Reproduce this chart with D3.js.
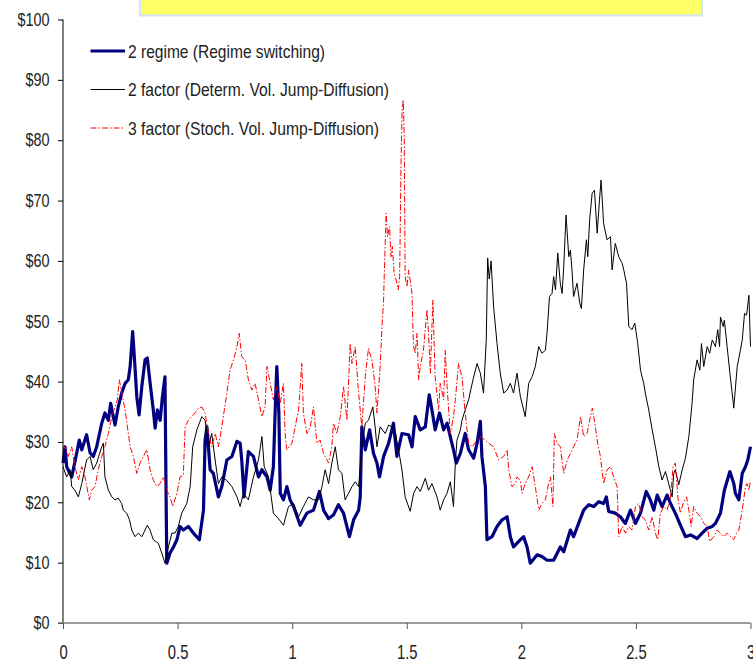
<!DOCTYPE html>
<html>
<head>
<meta charset="utf-8">
<script src="https://cdn.jsdelivr.net/npm/d3@7"></script>
<style>
  html, body { margin: 0; padding: 0; background: #fff; }
  svg { display: block; }
  text { font-family: "Liberation Sans", Arial, sans-serif; fill: #222; }
</style>
</head>
<body>
<svg id="chart" width="753" height="665"></svg>
<script>
// ---- data (time in years, price in $) ----
const seriesNames = [
  "2 regime (Regime switching)",
  "2 factor (Determ. Vol. Jump-Diffusion)",
  "3 factor (Stoch. Vol. Jump-Diffusion)"
];
const yTickValues = [0, 10, 20, 30, 40, 50, 60, 70, 80, 90, 100];
const xTickValues = [0, 0.5, 1, 1.5, 2, 2.5, 3];

const regimeSwitching = [
[0.000,26.5],[0.009,29.2],[0.016,25.9],[0.038,24.2],[0.060,28.2],[0.071,30.3],[0.082,28.7],[0.103,31.2],[0.118,28.2],[0.132,27.6],
[0.147,29.2],[0.169,33.1],[0.183,34.8],[0.198,33.6],[0.208,36.4],[0.227,32.8],[0.241,35.8],[0.256,38.1],[0.271,39.7],[0.285,40.3],
[0.293,42.5],[0.304,48.3],[0.314,42.5],[0.322,37.5],[0.332,34.5],[0.344,39.2],[0.358,43.6],[0.368,43.9],[0.380,39.8],[0.394,35.3],
[0.402,32.3],[0.412,35.3],[0.424,33.6],[0.434,37.5],[0.445,40.8],[0.450,20.4],[0.453,9.9],[0.467,11.6],[0.482,12.6],[0.497,13.8],
[0.511,16.0],[0.525,15.4],[0.547,16.0],[0.569,14.9],[0.595,13.8],[0.613,18.7],[0.620,30.3],[0.628,32.5],[0.642,25.4],[0.656,24.8],
[0.678,20.9],[0.693,22.6],[0.715,27.0],[0.737,27.6],[0.759,30.1],[0.773,29.8],[0.780,27.0],[0.790,20.9],[0.809,28.4],[0.831,27.6],
[0.853,24.2],[0.868,25.4],[0.890,24.2],[0.904,22.0],[0.918,25.9],[0.926,35.3],[0.933,42.5],[0.942,34.8],[0.948,21.5],[0.962,20.4],
[0.977,22.6],[0.991,20.4],[1.006,19.3],[1.035,16.2],[1.064,18.2],[1.093,18.7],[1.119,21.8],[1.137,18.7],[1.159,17.3],[1.180,17.9],
[1.202,19.6],[1.224,18.2],[1.250,14.3],[1.268,17.1],[1.290,18.7],[1.297,20.9],[1.304,32.5],[1.319,28.7],[1.338,32.0],[1.355,28.1],
[1.370,26.5],[1.381,24.2],[1.399,27.6],[1.421,29.8],[1.442,33.1],[1.457,27.6],[1.479,31.4],[1.508,31.2],[1.523,29.2],[1.537,34.2],
[1.559,32.0],[1.581,32.5],[1.598,37.8],[1.610,35.3],[1.624,32.0],[1.643,34.8],[1.661,32.0],[1.676,33.1],[1.690,30.9],[1.704,28.7],
[1.716,26.5],[1.734,28.1],[1.755,31.4],[1.770,28.7],[1.792,27.3],[1.807,29.8],[1.821,33.4],[1.828,27.6],[1.843,22.6],[1.850,13.8],
[1.872,14.3],[1.894,16.0],[1.916,17.1],[1.938,17.6],[1.952,14.3],[1.966,12.6],[1.996,13.8],[2.010,14.3],[2.025,12.6],[2.039,9.9],
[2.069,11.3],[2.090,11.0],[2.112,10.4],[2.141,10.4],[2.170,12.6],[2.185,11.8],[2.214,15.4],[2.228,14.3],[2.250,16.5],[2.272,18.7],
[2.294,19.6],[2.316,19.3],[2.338,20.1],[2.359,19.8],[2.371,20.9],[2.381,18.5],[2.410,18.2],[2.432,17.6],[2.454,16.5],[2.476,18.7],
[2.498,16.5],[2.520,18.2],[2.545,21.8],[2.563,20.4],[2.578,18.7],[2.593,21.2],[2.614,19.3],[2.636,21.2],[2.651,19.8],[2.672,18.2],
[2.694,16.2],[2.716,14.3],[2.738,14.6],[2.767,14.0],[2.789,14.9],[2.811,15.7],[2.833,16.0],[2.847,16.5],[2.869,18.2],[2.886,22.0],
[2.910,25.1],[2.927,23.1],[2.934,21.5],[2.949,20.4],[2.964,24.8],[2.978,25.9],[2.988,27.0],[3.000,29.2]
];

const twoFactor = [
[0.000,25.9],[0.016,24.2],[0.031,25.4],[0.038,22.6],[0.052,22.0],[0.067,20.9],[0.082,23.1],[0.103,27.0],[0.118,27.6],[0.132,25.4],
[0.147,26.5],[0.169,29.2],[0.176,29.8],[0.183,24.2],[0.198,22.0],[0.213,20.9],[0.227,20.4],[0.241,20.7],[0.256,19.8],[0.263,18.7],
[0.278,18.2],[0.290,17.1],[0.300,15.4],[0.314,14.3],[0.329,14.9],[0.344,14.3],[0.358,15.4],[0.368,16.2],[0.380,15.4],[0.394,13.8],
[0.416,13.2],[0.431,11.6],[0.445,9.9],[0.460,12.6],[0.475,14.9],[0.489,14.9],[0.503,16.0],[0.518,18.2],[0.540,19.8],[0.555,22.6],
[0.566,29.2],[0.584,32.0],[0.606,34.2],[0.620,33.6],[0.635,29.2],[0.649,31.4],[0.664,27.0],[0.678,23.1],[0.693,24.2],[0.715,23.6],
[0.737,22.6],[0.759,20.9],[0.773,19.3],[0.787,21.5],[0.809,20.4],[0.831,24.2],[0.853,27.0],[0.868,30.9],[0.878,25.9],[0.897,24.2],
[0.918,18.2],[0.940,17.3],[0.962,16.2],[0.984,19.3],[1.006,19.8],[1.028,17.6],[1.049,19.3],[1.071,20.9],[1.093,20.4],[1.115,20.4],
[1.130,22.6],[1.144,25.4],[1.159,23.1],[1.173,26.5],[1.188,29.2],[1.202,25.4],[1.217,24.8],[1.231,20.4],[1.246,21.5],[1.261,22.6],
[1.275,23.4],[1.290,22.6],[1.304,29.2],[1.319,33.1],[1.333,33.6],[1.352,35.8],[1.362,32.5],[1.370,29.2],[1.384,32.5],[1.406,31.4],
[1.421,32.8],[1.435,32.5],[1.450,31.7],[1.464,28.7],[1.479,25.4],[1.493,20.9],[1.515,18.5],[1.530,21.5],[1.545,22.6],[1.559,21.8],
[1.581,24.0],[1.595,22.0],[1.610,23.1],[1.632,20.9],[1.646,18.7],[1.661,20.4],[1.676,21.5],[1.690,23.4],[1.704,19.3],[1.712,26.5],
[1.719,30.3],[1.734,32.0],[1.741,33.6],[1.755,35.3],[1.770,37.0],[1.789,40.3],[1.807,43.0],[1.821,41.4],[1.835,38.1],[1.847,46.9],
[1.853,60.5],[1.860,57.0],[1.868,60.0],[1.879,52.4],[1.894,46.3],[1.908,41.4],[1.923,38.1],[1.938,38.6],[1.952,39.7],[1.966,38.1],
[1.981,41.4],[1.996,37.5],[2.017,34.2],[2.032,39.7],[2.047,40.8],[2.061,42.5],[2.076,45.8],[2.090,44.7],[2.105,45.2],[2.112,48.0],
[2.123,54.1],[2.134,54.6],[2.141,57.4],[2.149,55.2],[2.159,61.3],[2.170,56.3],[2.178,54.6],[2.185,59.0],[2.195,67.6],[2.207,60.7],
[2.214,61.8],[2.221,58.5],[2.228,54.1],[2.243,56.3],[2.255,53.0],[2.262,52.1],[2.272,58.5],[2.284,63.5],[2.290,60.7],[2.298,66.8],
[2.309,71.2],[2.319,71.7],[2.331,64.6],[2.341,70.1],[2.348,73.4],[2.359,66.2],[2.374,63.5],[2.389,64.0],[2.396,58.5],[2.410,62.9],
[2.425,60.7],[2.440,59.6],[2.447,58.5],[2.459,56.3],[2.469,49.1],[2.483,48.6],[2.495,49.7],[2.508,46.3],[2.520,41.9],[2.534,39.7],
[2.541,38.1],[2.556,35.3],[2.571,32.0],[2.585,29.2],[2.600,25.9],[2.614,23.7],[2.629,25.1],[2.643,23.1],[2.658,20.9],[2.665,24.8],
[2.672,25.4],[2.687,22.9],[2.702,25.4],[2.716,27.3],[2.731,30.9],[2.745,36.4],[2.752,40.3],[2.767,43.6],[2.779,41.9],[2.786,46.3],
[2.796,42.5],[2.811,45.8],[2.822,44.7],[2.833,46.9],[2.847,45.8],[2.857,48.6],[2.865,45.8],[2.869,50.7],[2.881,49.1],[2.886,50.2],
[2.898,45.8],[2.910,41.4],[2.920,38.1],[2.927,35.6],[2.942,42.5],[2.956,45.2],[2.964,46.9],[2.974,51.3],[2.983,51.0],[2.993,54.3],
[3.000,45.8]
];

const threeFactor = [
[0.000,28.7],[0.009,29.2],[0.023,27.6],[0.038,29.2],[0.052,25.9],[0.067,23.7],[0.082,25.9],[0.096,24.2],[0.115,20.4],[0.125,22.0],
[0.140,22.6],[0.154,25.4],[0.169,27.6],[0.183,29.2],[0.198,31.4],[0.213,34.2],[0.227,35.8],[0.237,37.0],[0.246,40.3],[0.256,38.1],
[0.271,35.3],[0.281,32.5],[0.293,29.2],[0.307,27.6],[0.322,24.8],[0.336,26.5],[0.351,27.6],[0.366,28.7],[0.380,25.4],[0.394,23.7],
[0.409,22.6],[0.424,23.1],[0.438,24.2],[0.453,22.0],[0.467,20.9],[0.479,19.3],[0.497,21.5],[0.511,24.2],[0.525,24.5],[0.533,32.5],
[0.547,33.6],[0.562,34.2],[0.576,34.8],[0.591,35.6],[0.606,35.8],[0.620,34.8],[0.635,31.4],[0.649,29.2],[0.664,31.4],[0.678,29.2],
[0.693,32.5],[0.715,38.1],[0.729,41.9],[0.744,43.6],[0.759,45.8],[0.769,48.0],[0.780,44.1],[0.795,43.6],[0.809,40.3],[0.824,38.6],
[0.838,39.7],[0.853,37.0],[0.868,34.2],[0.882,35.8],[0.890,42.5],[0.904,39.7],[0.918,37.0],[0.933,39.2],[0.948,36.4],[0.962,39.7],
[0.969,31.4],[0.977,28.7],[0.999,29.8],[1.013,32.5],[1.028,35.3],[1.042,43.0],[1.049,34.8],[1.064,31.4],[1.079,32.5],[1.093,35.8],
[1.108,29.8],[1.122,30.3],[1.137,28.1],[1.159,26.5],[1.173,29.2],[1.180,33.1],[1.195,31.4],[1.210,34.2],[1.224,39.2],[1.239,33.6],
[1.253,46.3],[1.261,43.0],[1.275,45.8],[1.290,38.1],[1.304,32.5],[1.319,40.8],[1.333,45.5],[1.348,43.6],[1.362,39.2],[1.370,34.8],
[1.384,42.5],[1.392,49.1],[1.399,53.5],[1.402,57.9],[1.410,67.9],[1.416,64.0],[1.425,65.7],[1.431,60.7],[1.437,62.4],[1.445,57.9],
[1.454,56.8],[1.463,55.2],[1.469,57.4],[1.475,76.1],[1.480,85.0],[1.485,86.7],[1.489,80.6],[1.493,57.4],[1.501,55.7],[1.508,58.5],
[1.515,56.8],[1.523,54.6],[1.527,48.6],[1.530,45.8],[1.537,44.7],[1.545,48.0],[1.552,40.3],[1.559,42.5],[1.573,45.2],[1.588,51.9],
[1.595,48.0],[1.603,41.4],[1.614,53.5],[1.624,40.8],[1.639,35.3],[1.646,39.7],[1.661,37.0],[1.668,45.2],[1.676,39.2],[1.690,31.4],
[1.704,34.2],[1.712,37.0],[1.726,43.0],[1.741,40.8],[1.755,34.8],[1.770,29.8],[1.785,29.2],[1.807,30.3],[1.821,30.9],[1.843,30.3],
[1.857,29.8],[1.879,29.2],[1.901,27.0],[1.923,27.6],[1.938,28.7],[1.945,25.4],[1.959,22.6],[1.974,23.1],[1.981,24.2],[1.996,23.6],
[2.003,21.5],[2.017,23.1],[2.032,24.2],[2.047,25.9],[2.061,22.6],[2.076,18.7],[2.090,19.8],[2.105,20.4],[2.119,23.1],[2.127,24.2],
[2.138,19.3],[2.144,31.4],[2.156,29.8],[2.170,29.2],[2.185,24.8],[2.200,27.0],[2.214,28.1],[2.228,29.2],[2.243,30.3],[2.258,34.2],
[2.272,30.9],[2.287,31.4],[2.298,33.6],[2.310,35.6],[2.323,32.5],[2.333,29.8],[2.345,27.6],[2.359,23.1],[2.374,25.4],[2.389,25.9],
[2.403,24.2],[2.418,22.6],[2.425,14.3],[2.440,16.0],[2.454,14.9],[2.469,16.0],[2.483,15.4],[2.498,19.3],[2.512,19.8],[2.527,17.6],
[2.541,17.1],[2.556,15.4],[2.571,17.6],[2.585,14.9],[2.595,13.8],[2.607,18.2],[2.621,19.3],[2.636,18.7],[2.651,20.9],[2.662,25.9],
[2.672,26.5],[2.683,20.9],[2.694,18.2],[2.706,19.8],[2.721,20.9],[2.731,18.7],[2.741,16.0],[2.752,19.3],[2.767,18.2],[2.782,17.6],
[2.796,16.5],[2.811,16.0],[2.822,13.5],[2.840,14.3],[2.854,15.4],[2.869,14.9],[2.883,14.3],[2.898,14.9],[2.913,14.3],[2.927,13.8],
[2.939,14.9],[2.949,15.4],[2.959,17.6],[2.968,19.8],[2.978,22.6],[2.985,23.1],[2.993,22.0],[3.000,23.6]
];

// ---- drawing ----
const svg = d3.select("#chart");
const x = d3.scaleLinear().domain([0, 3]).range([63, 750.5]);
const y = d3.scaleLinear().domain([0, 100]).range([623, 19.5]);

// yellow title box (empty)
svg.append("rect")
  .attr("x", 140).attr("y", -3).attr("width", 562).attr("height", 18.5)
  .attr("fill", "#FFFF66").attr("stroke", "#CCE8F8").attr("stroke-width", 2);

const line = d3.line().x(d => x(d[0])).y(d => y(d[1]));

const styles = [
  { data: regimeSwitching, stroke: "#000080", width: 3.2, dash: null },
  { data: twoFactor, stroke: "#000000", width: 1, dash: null },
  { data: threeFactor, stroke: "#FF0000", width: 1, dash: "6,2,1.5,2" }
];

styles.forEach(s => {
  svg.append("path").datum(s.data)
    .attr("d", line)
    .attr("fill", "none")
    .attr("stroke", s.stroke)
    .attr("stroke-width", s.width)
    .attr("stroke-linejoin", "round")
    .attr("stroke-dasharray", s.dash);
});

const narrow = 0.8; // horizontal compression to mimic a narrow font

// y axis
const yAxis = d3.axisLeft(y).tickValues(yTickValues).tickFormat(d => "$" + d).tickSize(5).tickPadding(8);
const gy = svg.append("g").attr("transform", "translate(63,0)").call(yAxis);
gy.select(".domain").attr("stroke", "#000").attr("d", `M0,${y(100)}V${y(0)}`);
gy.selectAll(".tick line").attr("stroke", "#000");
gy.selectAll(".tick text")
  .attr("font-size", 18).attr("fill", "#222")
  .attr("x", -13.5 / narrow)
  .attr("transform", `scale(${narrow},1)`);

// x axis
const xAxis = d3.axisBottom(x).tickValues(xTickValues).tickFormat(d3.format("")).tickSize(6).tickPadding(16);
const gx = svg.append("g").attr("transform", "translate(0,623)").call(xAxis);
gx.select(".domain").attr("stroke", "#777").attr("stroke-width", 1.5).attr("d", `M58,0H${x(3)}`);
gx.selectAll(".tick line").attr("stroke", "#555");
gx.selectAll(".tick text")
  .attr("font-size", 20).attr("fill", "#222")
  .attr("transform", "scale(0.74,1)");

// legend
const legendY = [51, 89.5, 128];
const legendWidths = [197, 261, 251];
styles.forEach((s, i) => {
  svg.append("line")
    .attr("x1", 90.5).attr("x2", 125).attr("y1", legendY[i]).attr("y2", legendY[i])
    .attr("stroke", s.stroke).attr("stroke-width", i === 0 ? 3 : 1)
    .attr("stroke-dasharray", s.dash);
  svg.append("text")
    .attr("x", 128).attr("y", legendY[i]).attr("dy", "0.36em")
    .attr("font-size", 18.5)
    .attr("textLength", legendWidths[i])
    .attr("lengthAdjust", "spacingAndGlyphs")
    .text(seriesNames[i]);
});
</script>
</body>
</html>
